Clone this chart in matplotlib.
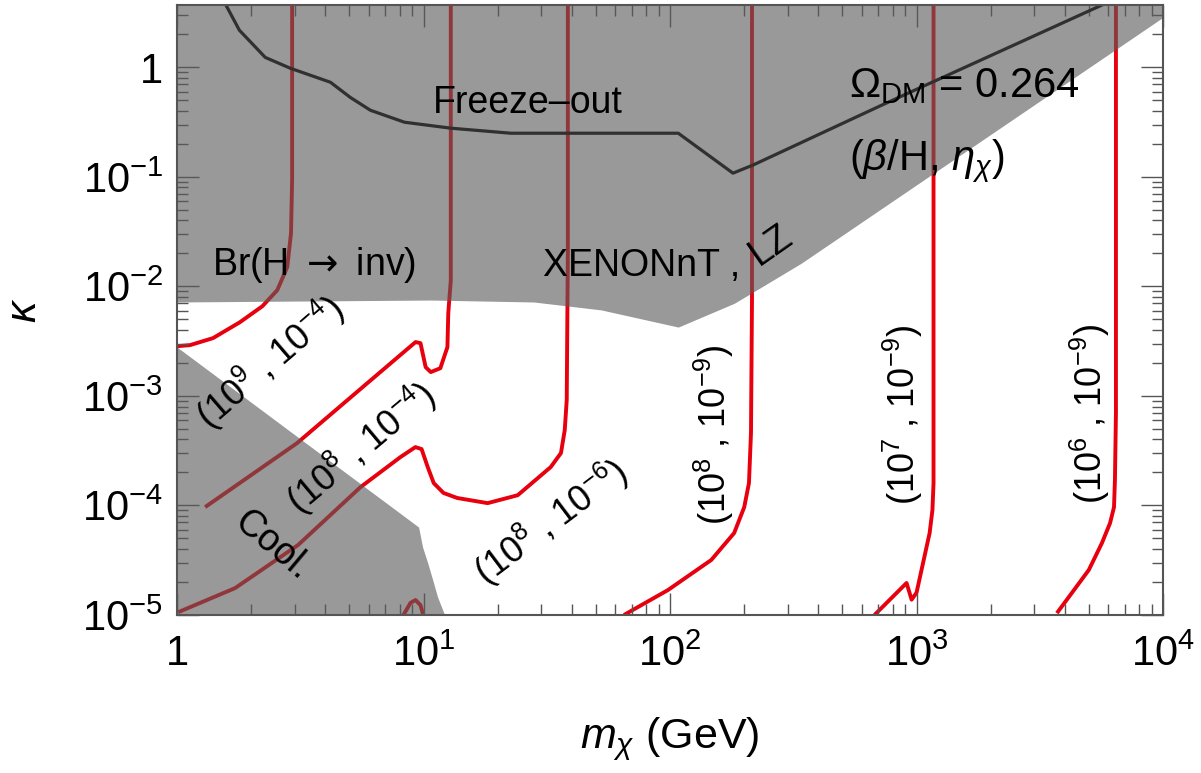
import numpy as np
import matplotlib
matplotlib.use('Agg')
import matplotlib.pyplot as plt
from matplotlib.ticker import FixedLocator, FixedFormatter, LogLocator, NullFormatter

plt.rcParams['font.family'] = ['Liberation Sans', 'DejaVu Sans']
plt.rcParams['mathtext.fontset'] = 'custom'
plt.rcParams['mathtext.rm'] = 'Liberation Sans'
plt.rcParams['mathtext.it'] = 'Liberation Sans:italic'
plt.rcParams['mathtext.bf'] = 'Liberation Sans:bold'

# ---------------- data ----------------
# excluded by Br(H->inv) and XENONnT/LZ (region above this boundary)
excl_top_m = [1, 10.7, 28, 52.5, 108, 182, 234, 341, 10000]
excl_top_k = [7.2e-3, 7.5e-3, 7.2e-3, 6.1e-3, 4.25e-3, 7.0e-3, 9.8e-3, 1.63e-2, 2.86]

# excluded by cooling (region below this boundary)
cool_m = [1, 9.55, 9.91, 10.4, 10.9, 11.4, 12.1, 12.4]
cool_k = [2.79e-3, 6.35e-5, 4.17e-5, 2.98e-5, 2.08e-5, 1.46e-5, 1.04e-5, 5e-6]

# freeze-out line
fo_m = [1.55, 1.79, 2.28, 2.88, 4.19, 5.05, 6.09, 8.37, 12.9, 22.6, 50.9, 108, 180, 217, 721, 6100]
fo_k = [4.0, 2.18, 1.23, 0.98, 0.73, 0.53, 0.405, 0.315, 0.278, 0.25, 0.25, 0.25, 0.108, 0.128, 0.45, 4.0]

# Omega_DM = 0.264 contours, labelled (beta/H, eta_chi)
c_9_4_m = [1, 1.13, 1.40, 1.80, 2.22, 2.55, 2.80, 2.90, 2.93, 2.93]
c_9_4_k = [2.84e-3, 2.91e-3, 3.37e-3, 4.71e-3, 6.59e-3, 9.23e-3, 1.50e-2, 3.06e-2, 9.3e-2, 4.0]

c_8_4_m = [1.30, 3.07, 5.92, 9.28, 9.72, 10.2, 10.7, 11.7, 12.5, 12.6, 12.9, 12.9]
c_8_4_k = [9.66e-5, 3.71e-4, 1.31e-3, 3.10e-3, 3.03e-3, 1.83e-3, 1.65e-3, 1.79e-3, 2.79e-3, 5.69e-3, 1.14e-2, 4.0]

c_8_6_m = [1.01, 1.72, 3.10, 5.55, 8.07, 9.27, 9.82, 10.4, 11.0, 12.05, 13.7, 18.2,
           24.1, 32.8, 36.1, 37.4, 38.1, 38.5, 38.5]
c_8_6_k = [1.06e-5, 1.76e-5, 4.36e-5, 1.47e-4, 2.77e-4, 3.41e-4, 3.27e-4, 2.24e-4, 1.60e-4,
           1.30e-4, 1.17e-4, 1.05e-4, 1.24e-4, 2.24e-4, 3.01e-4, 4.88e-4, 9.16e-4, 2.14e-2, 4.0]

c_9_6_m = [8.07, 8.85, 9.28, 9.72, 10.1]
c_9_6_k = [9e-6, 1.29e-5, 1.37e-5, 1.23e-5, 9e-6]

c_8_9_m = [65.0, 98.1, 147, 182, 200, 209, 213, 215, 215]
c_8_9_k = [1.0e-5, 1.69e-5, 3.18e-5, 5.60e-5, 9.66e-5, 1.60e-4, 4.58e-4, 7.5e-3, 4.0]

c_7_9_m = [675, 911, 955, 1000, 1130, 1160, 1172, 1172, 1172]
c_7_9_k = [1e-5, 1.96e-5, 1.38e-5, 1.60e-5, 5.60e-5, 9.08e-5, 1.60e-4, 7.5e-3, 4.0]

c_6_9_m = [3710, 4266, 5000, 5650, 6095, 6325, 6380, 6440, 6440, 6440]
c_6_9_k = [1.04e-5, 1.59e-5, 2.58e-5, 4.54e-5, 6.90e-5, 9.66e-5, 1.71e-4, 6.97e-4, 1.14e-2, 4.0]

x_ticks = [1, 10, 100, 1000, 10000]
x_ticklabels = ['1', r'$10^{1}$', r'$10^{2}$', r'$10^{3}$', r'$10^{4}$']
y_ticks = [1e-5, 1e-4, 1e-3, 1e-2, 1e-1, 1]
y_ticklabels = [r'$10^{-5}$', r'$10^{-4}$', r'$10^{-3}$', r'$10^{-2}$', r'$10^{-1}$', '1']

# ---------------- plot ----------------
fig = plt.figure(figsize=(12.01, 7.73), dpi=100)
ax = fig.add_axes([0.1474, 0.2044, 0.8210, 0.7891])
ax.set_xscale('log')
ax.set_yscale('log')
ax.set_xlim(1, 1e4)
ax.set_ylim(1e-5, 3.7)

red = '#e8000e'
lw = 2.8
for mm, kk in [(c_9_4_m, c_9_4_k), (c_8_4_m, c_8_4_k), (c_8_6_m, c_8_6_k), (c_9_6_m, c_9_6_k),
               (c_8_9_m, c_8_9_k), (c_7_9_m, c_7_9_k), (c_6_9_m, c_6_9_k)]:
    ax.plot(mm, kk, color=red, lw=lw, zorder=1, solid_capstyle='butt')

gray = '#5a5a5a'
ax.fill_between(excl_top_m, excl_top_k, 10, color=gray, alpha=0.62, lw=0, zorder=2)
ax.fill_between(cool_m, 1e-6, cool_k, color=gray, alpha=0.62, lw=0, zorder=2)

ax.plot(fo_m, fo_k, color='#303030', lw=2.3, zorder=3)

# ---------------- texts ----------------
tk = dict(color='black', zorder=5, ha='center', va='center', rotation_mode='anchor')
ax.text(26.5, 0.47, 'Freeze\u2013out', fontsize=27, **tk)
ax.text(534, 0.68, r'$\Omega_{\rm DM}$ = 0.264', fontsize=30, color='black', zorder=5,
        ha='left', va='center')
ax.text(534, 0.14, r'($\beta$/H, $\eta_{\chi}$)', fontsize=30, color='black', zorder=5,
        ha='left', va='center')
ax.text(3.6, 1.56e-2, r'Br(H $\rightarrow$ inv)', fontsize=27, math_fontfamily='dejavusans', **tk)
ax.text(76.9, 1.53e-2, 'XENONnT ,', fontsize=27, **tk)
ax.text(257, 2.38e-2, 'LZ', fontsize=27, rotation=35, **tk)
ax.text(2.43, 4.35e-5, 'Cool.', fontsize=27, rotation=-40, **tk)

lf = 26
ax.text(2.39, 2.03e-3, r'(10$^{9}$ , 10$^{-4}$)', fontsize=lf, rotation=40.7, **tk)
ax.text(5.55, 3.34e-4, r'(10$^{8}$ , 10$^{-4}$)', fontsize=lf, rotation=40, **tk)
ax.text(32.8, 7.06e-5, r'(10$^{8}$ , 10$^{-6}$)', fontsize=lf, rotation=37, **tk)
ax.text(150, 4.39e-4, r'(10$^{8}$ , 10$^{-9}$)', fontsize=lf, rotation=90, **tk)
ax.text(880, 6.68e-4, r'(10$^{7}$ , 10$^{-9}$)', fontsize=lf, rotation=90, **tk)
ax.text(5050, 6.9e-4, r'(10$^{6}$ , 10$^{-9}$)', fontsize=lf, rotation=90, **tk)

# ---------------- axes ----------------
ax.xaxis.set_major_locator(FixedLocator(x_ticks))
ax.xaxis.set_major_formatter(FixedFormatter(x_ticklabels))
ax.yaxis.set_major_locator(FixedLocator(y_ticks))
ax.yaxis.set_major_formatter(FixedFormatter(y_ticklabels))
ax.xaxis.set_minor_locator(LogLocator(base=10, subs=np.arange(2, 10), numticks=20))
ax.yaxis.set_minor_locator(LogLocator(base=10, subs=np.arange(2, 10), numticks=20))
ax.xaxis.set_minor_formatter(NullFormatter())
ax.yaxis.set_minor_formatter(NullFormatter())

ax.tick_params(which='both', direction='in', top=True, right=True, color='#555555', width=1.0)
ax.tick_params(which='major', length=16, labelsize=30)
ax.tick_params(which='minor', length=8)
ax.tick_params(axis='x', which='major', pad=14)
ax.tick_params(axis='y', which='major', pad=10)

for s in ax.spines.values():
    s.set_color('#555555')
    s.set_linewidth(1.5)
    s.set_zorder(6)

ax.set_xlabel(r'$m_{\chi}$ (GeV)', fontsize=31)
ax.xaxis.set_label_coords(0.5, -0.165)
ax.set_ylabel(r'$\kappa$', fontsize=31)
ax.yaxis.set_label_coords(-0.134, 0.5)

fig.savefig('out.png', dpi=100)
